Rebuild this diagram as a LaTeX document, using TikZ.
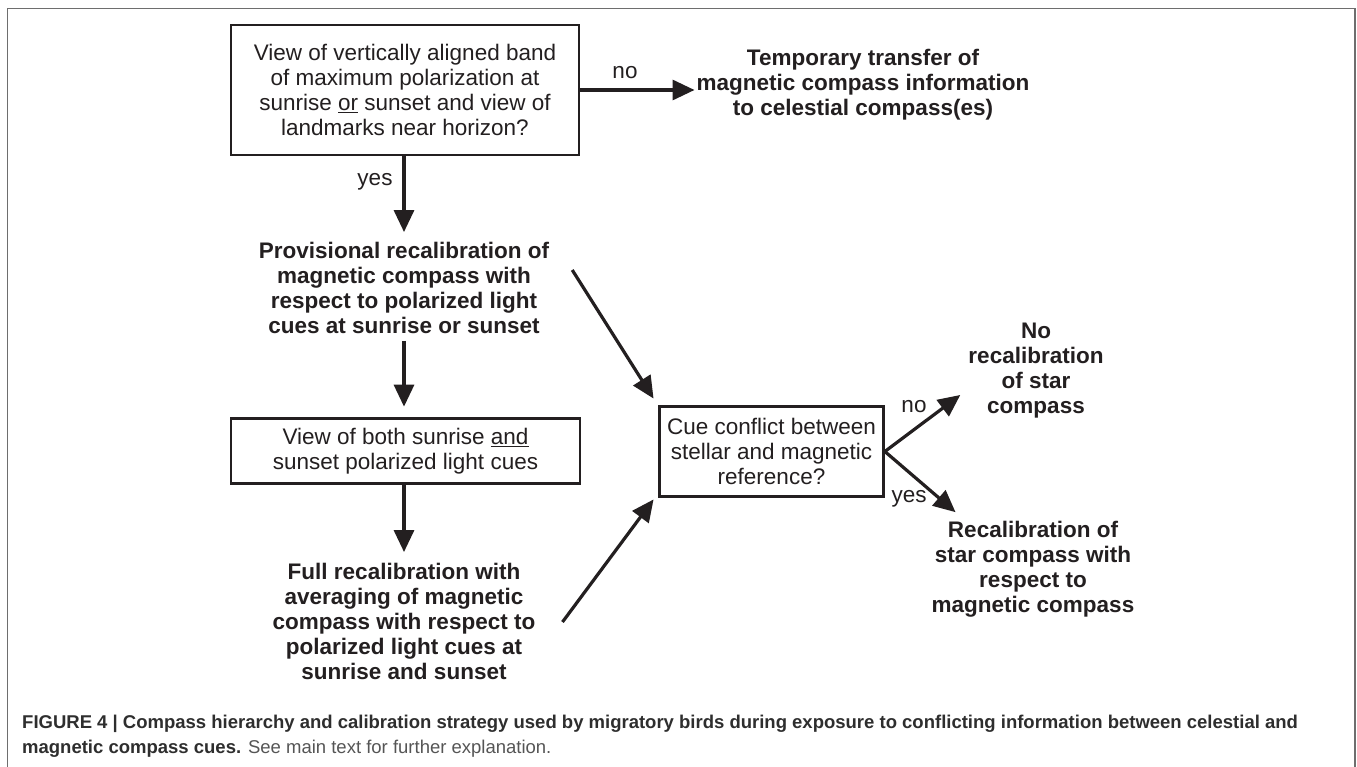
\documentclass[tikz,border=0pt]{standalone}
\usepackage{fontspec}
\setmainfont{Liberation Sans}
\usetikzlibrary{arrows.meta}
\definecolor{ink}{HTML}{231F20}
\definecolor{framec}{HTML}{6E6E6E}
\definecolor{captxt}{HTML}{2E2E2E}
\definecolor{capgray}{HTML}{555555}
\begin{document}
\begin{tikzpicture}[x=1pt,y=-1pt,
  every node/.style={text=ink, font=\fontsize{22.5}{25}\selectfont, inner sep=2pt},
  qbox/.style={draw=ink, line width=2.7pt, align=center},
  res/.style={align=center, font=\fontsize{22.5}{25}\selectfont\bfseries},
  lab/.style={font=\fontsize{22.5}{25}\selectfont},
  arr/.style={draw=ink, line width=3.2pt, -{Triangle[length=22pt,width=20pt]}},
  captionline/.style={anchor=base west, inner sep=0, text=captxt, font=\fontsize{18.5}{25}\selectfont\bfseries}
]
\useasboundingbox (0,0) rectangle (1357,767);
\fill[white] (0,0) rectangle (1357,767);
\draw[framec, line width=1.5pt] (7.5,770) -- (7.5,8.5) -- (1355,8.5) -- (1355,770);

% nodes
\node[qbox, minimum width=348pt, minimum height=130pt] (q1) at (405,90)
  {View of vertically aligned band\\of maximum polarization at\\sunrise \underline{or} sunset and view of\\landmarks near horizon?};
\node[res] (temp) at (863,85)
  {Temporary transfer of\\magnetic compass information\\to celestial compass(es)};
\node[res] (prov) at (404,288)
  {Provisional recalibration of\\magnetic compass with\\respect to polarized light\\cues at sunrise or sunset};
\node[qbox, minimum width=349pt, minimum height=65pt] (q2) at (405.5,451)
  {View of both sunrise \underline{and}\\sunset polarized light cues};
\node[res] (full) at (404,621)
  {Full recalibration with\\averaging of magnetic\\compass with respect to\\polarized light cues at\\sunrise and sunset};
\node[qbox, minimum width=224pt, minimum height=90pt] (q3) at (771.5,451.5)
  {Cue conflict between\\stellar and magnetic\\reference?};
\node[res] (nore) at (1036,371) {No\\recalibration\\of star\\compass};
\node[res] (reca) at (1033,569) {Recalibration of\\star compass with\\respect to\\magnetic compass};

% labels
\node[lab] (lno1) at (625,73) {no};
\node[lab] (lyes1) at (375,182) {yes};
\node[lab] (lno2) at (914,407) {no};
\node[lab] (lyes2) at (909,499) {yes};

% connectors
\draw[arr] (q1.east) -- (q1.east -| temp.west);
\draw[arr, shorten >=8pt] (q1.south -| prov.north) -- (prov.north);
\draw[arr, shorten <=5pt, shorten >=10.5pt] (prov.south) -- (prov.south |- q2.north);
\draw[arr, shorten >=8.5pt] (q2.south -| full.north) -- (full.north);
\draw[arr] ([xshift=21pt,yshift=18pt]prov.east) -- ([xshift=-4.6pt,yshift=6.6pt]q3.north west);
\draw[arr] ([xshift=25pt,yshift=-1pt]full.east) -- ([xshift=-4.6pt,yshift=-1.6pt]q3.south west);
\draw[arr] (q3.east) -- ([xshift=-6pt,yshift=-24pt]nore.west);
\draw[arr] (q3.east) -- ([xshift=26pt,yshift=6.6pt]reca.north west);

% caption
\node[captionline] (cap1) at (22,728)
  {FIGURE 4 | Compass hierarchy and calibration strategy used by migratory birds during exposure to conflicting information between celestial and};
\node[captionline] (cap2) at (22,753)
  {magnetic compass cues. {\mdseries\color{capgray}See main text for further explanation.}};
\end{tikzpicture}
\end{document}
